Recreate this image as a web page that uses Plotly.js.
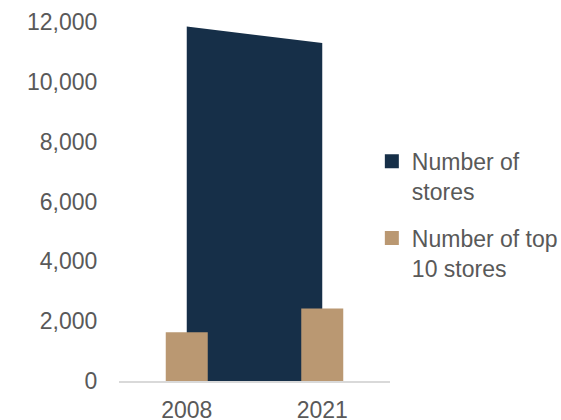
<!DOCTYPE html>
<html>
<head>
<meta charset="utf-8">
<script src="https://cdn.plot.ly/plotly-3.0.1.min.js"></script>
<style>html,body{margin:0;padding:0;background:#fff;}#chart{width:561px;height:420px;}</style>
</head>
<body>
<div id="chart"></div>
<script>
const years = ['2008', '2021'];
const numberOfStores = [11850, 11300];
const numberOfTop10Stores = [1630, 2420];
const yTickVals = [0, 2000, 4000, 6000, 8000, 10000, 12000];
const yTickText = ['0', '2,000', '4,000', '6,000', '8,000', '10,000', '12,000'];
const seriesNames = ['Number of<br>stores', 'Number of top<br>10 stores'];

const navy = '#162f48';
const tan = '#ba9872';
const fontFam = 'Liberation Sans, Arial, sans-serif';
const fs = 23;

const traces = [
  {
    type: 'scatter', x: years, y: numberOfStores, mode: 'lines',
    fill: 'tozeroy', fillcolor: navy, line: {width: 0, color: navy},
    showlegend: false, hoverinfo: 'skip', xaxis: 'x', yaxis: 'y'
  },
  {
    type: 'bar', x: years, y: numberOfTop10Stores, name: seriesNames[1],
    marker: {color: tan}, width: 0.31, showlegend: false,
    xaxis: 'x', yaxis: 'y2'
  },
  {
    type: 'scatter', mode: 'markers', x: [null], y: [null], name: seriesNames[0],
    marker: {color: navy, symbol: 'square', size: 14}, legendgroup: 'a',
    xaxis: 'x', yaxis: 'y2'
  },
  {
    type: 'scatter', mode: 'markers', x: [null], y: [null], name: seriesNames[1],
    marker: {color: tan, symbol: 'square', size: 14}, legendgroup: 'b',
    xaxis: 'x', yaxis: 'y2'
  }
];

const layout = {
  width: 561, height: 420,
  margin: {l: 119, r: 171, t: 22, b: 39, autoexpand: false},
  paper_bgcolor: '#fff', plot_bgcolor: 'rgba(0,0,0,0)',
  font: {family: fontFam, size: fs, color: '#595959'},
  barmode: 'overlay',
  showlegend: true,
  legend: {
    x: 0.933, xanchor: 'left', y: 0.672, yanchor: 'top',
    valign: 'top', itemwidth: 30, tracegroupgap: 14, traceorder: 'grouped',
    font: {family: fontFam, size: fs, color: '#595959'},
    bgcolor: 'rgba(0,0,0,0)'
  },
  xaxis: {
    type: 'category', range: [-0.5, 1.5],
    showline: true, linecolor: '#d9d9d9', linewidth: 2,
    showgrid: false, zeroline: false,
    ticks: 'outside', ticklen: 7, tickcolor: 'rgba(0,0,0,0)',
    tickfont: {family: fontFam, size: fs, color: '#595959'}
  },
  yaxis: {
    range: [0, 12000], tickvals: yTickVals, ticktext: yTickText,
    showline: false, showgrid: false, zeroline: false,
    ticks: 'outside', ticklen: 16, tickcolor: 'rgba(0,0,0,0)',
    tickfont: {family: fontFam, size: fs, color: '#595959'}
  },
  yaxis2: {
    range: [0, 12000], overlaying: 'y', showticklabels: false,
    showline: false, showgrid: false, zeroline: false, ticks: ''
  }
};

Plotly.newPlot('chart', traces, layout, {staticPlot: true, displayModeBar: false});
</script>
</body>
</html>
